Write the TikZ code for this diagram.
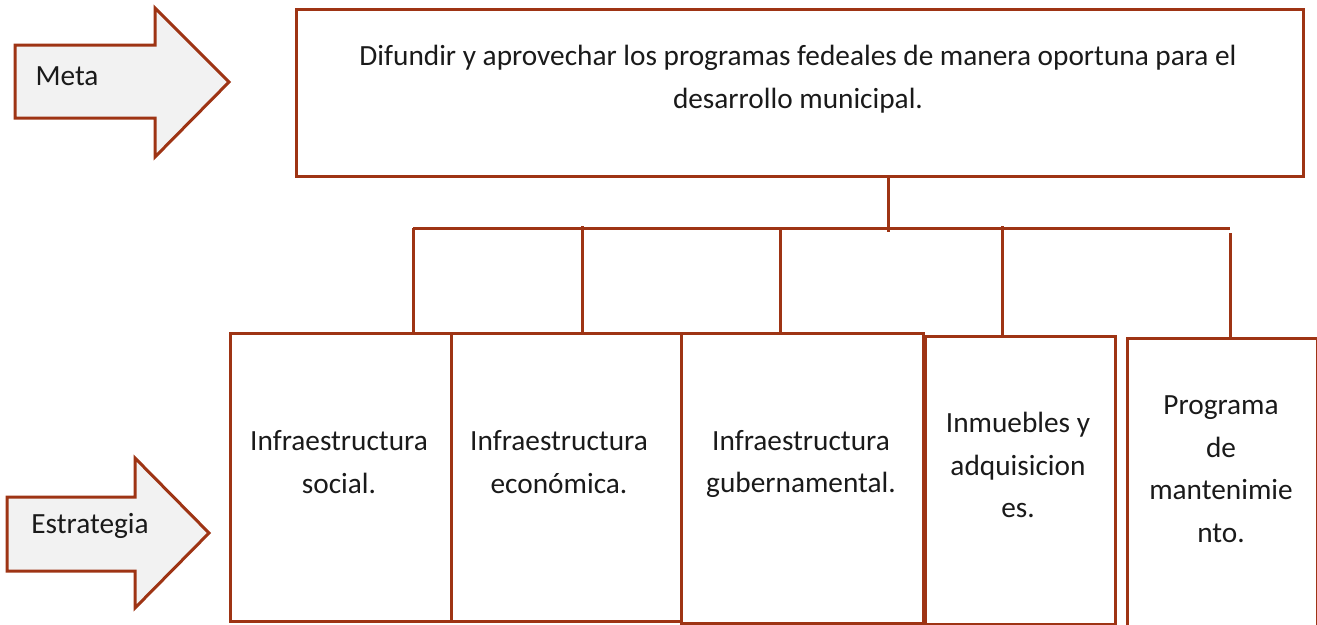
\documentclass[tikz,border=0pt]{standalone}
\usepackage{fontspec}
\setmainfont{Carlito}
\definecolor{ln}{RGB}{158,52,20}
\definecolor{af}{RGB}{242,242,242}
\definecolor{tx}{RGB}{26,26,26}
\begin{document}
\begin{tikzpicture}[x=1pt,y=-1pt,
  box/.style={draw=ln, line width=3pt, inner sep=0pt, anchor=north west, rectangle},
  conn/.style={draw=ln, line width=3pt},
  arrowshape/.style={draw=ln, fill=af, line width=3pt, line join=miter},
  txt/.style={text=tx, align=center, inner sep=0pt, font=\fontsize{29.3}{42.5}\selectfont}]
\useasboundingbox (0,0) rectangle (1317,624);
% arrows
\draw[arrowshape] (15,45) -- (155,45) -- (155,8) -- (229,82) -- (155,157) -- (155,118) -- (15,118) -- cycle;
\node[txt] (metalbl) at (67,76) {Meta};
\draw[arrowshape] (7,497) -- (135,497) -- (135,458) -- (209,533) -- (135,608) -- (135,571) -- (7,571) -- cycle;
\node[txt] (estlbl) at (90,526) {Estrategia};
% top box
\node[box, minimum width=1007pt, minimum height=167pt] (meta) at (295,8) {};
\node[txt] (metatxt) at (798,79) {Difundir y aprovechar los programas fedeales de manera oportuna para el\\desarrollo municipal.};
% strategy boxes
\node[box, minimum width=221pt, minimum height=288pt] (b1) at (229,332) {};
\node[box, minimum width=230pt, minimum height=288pt] (b2) at (450,332) {};
\node[box, minimum width=242pt, minimum height=290pt] (b3) at (680,332) {};
\node[box, minimum width=190pt, minimum height=288pt] (b4) at (924,335) {};
\node[box, minimum width=190pt, minimum height=292pt] (b5) at (1126,337) {};
\node[txt] (t1) at (339,462) {Infraestructura\\social.};
\node[txt] (t2) at (559,462) {Infraestructura\\económica.};
\node[txt] (t3) at (801,464) {Infraestructura\\gubernamental.};
\node[txt] (t4) at (1018,465) {Inmuebles y\\adquisicion\\es.};
\node[txt] (t5) at (1221,469) {Programa\\de\\mantenimie\\nto.};
% connectors
\coordinate (j) at (888,232);
\coordinate (d1) at (413,228);
\coordinate (d2) at (582,226);
\coordinate (d3) at (780,228);
\coordinate (d4) at (1002,226);
\coordinate (d5t) at (1230,228);
\coordinate (d5) at (1230,233);
\draw[conn] (meta.south -| j) -- (j);
\draw[conn] (d1) -- (d5t);
\draw[conn] (d1) -- (d1 |- b1.north);
\draw[conn] (d2) -- (d2 |- b2.north);
\draw[conn] (d3) -- (d3 |- b3.north);
\draw[conn] (d4) -- (d4 |- b4.north);
\draw[conn] (d5) -- (d5 |- b5.north);
\end{tikzpicture}
\end{document}
